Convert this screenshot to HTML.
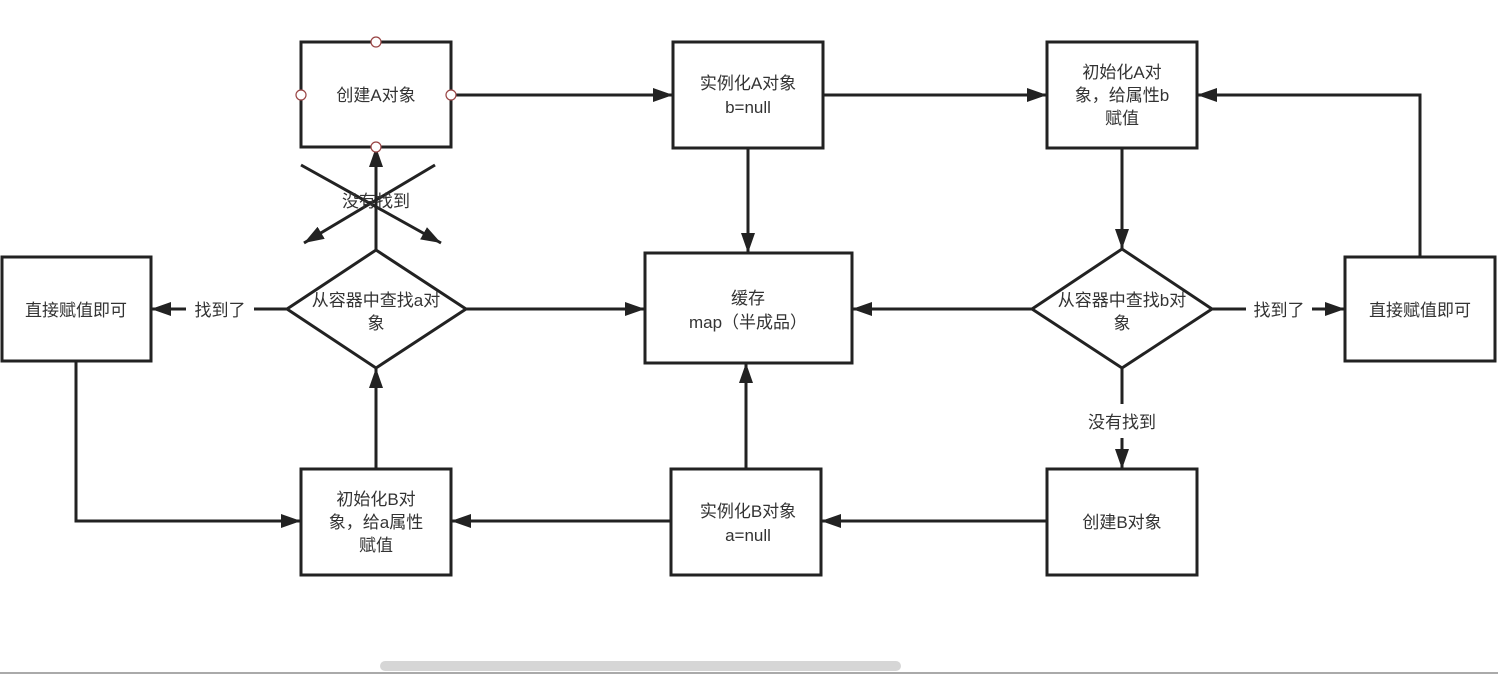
<!DOCTYPE html>
<html><head><meta charset="utf-8"><style>
html,body{margin:0;padding:0;background:#fff;}
svg{display:block;}
text{font-family:"Liberation Sans","Noto Sans CJK SC",sans-serif;font-size:17px;fill:#333;text-anchor:middle;}
</style></head><body>
<svg width="1498" height="674" viewBox="0 0 1498 674" xmlns="http://www.w3.org/2000/svg">
<defs>
<marker id="a" markerWidth="10" markerHeight="10" refX="9" refY="5" orient="auto" markerUnits="userSpaceOnUse" viewBox="0 0 10 10">
<path d="M0,0 L10,5 L0,10 z" fill="#222"/>
</marker>
<marker id="b" markerWidth="20" markerHeight="14" refX="20" refY="7" orient="auto" markerUnits="userSpaceOnUse">
<path d="M0,0 L20,7 L0,14 z" fill="#222"/>
</marker>
</defs>
<g fill="none" stroke="#222" stroke-width="3">
<rect x="301" y="42" width="150" height="105"/>
<rect x="673" y="42" width="150" height="106"/>
<rect x="1047" y="42" width="150" height="106"/>
<rect x="2" y="257" width="149" height="104"/>
<rect x="645" y="253" width="207" height="110"/>
<rect x="1345" y="257" width="150" height="104"/>
<rect x="301" y="469" width="150" height="106"/>
<rect x="671" y="469" width="150" height="106"/>
<rect x="1047" y="469" width="150" height="106"/>
<polygon points="287,309 376,250 466,309 376,368"/>
<polygon points="1032,309 1122,249 1212,309 1122,368"/>
</g>
<g fill="none" stroke="#222" stroke-width="3" marker-end="url(#b)">
<path d="M451,95 H673"/>
<path d="M823,95 H1047"/>
<path d="M748,148 V253"/>
<path d="M1122,148 V249"/>
<path d="M1420,257 V95 H1197"/>
<path d="M1032,309 H852"/>
<path d="M1212,309 H1246 M1312,309 H1345"/>
<path d="M1122,368 V404 M1122,438 V469"/>
<path d="M1047,521 H821"/>
<path d="M746,469 V363"/>
<path d="M671,521 H451"/>
<path d="M376,469 V368"/>
<path d="M76,361 V521 H301"/>
<path d="M287,309 H254 M186,309 H151"/>
<path d="M466,309 H645"/>
<path d="M376,250 V147"/>
<path d="M301,165 L441,243"/>
<path d="M435,165 L304,243"/>
</g>
<g fill="#fff" stroke="#944" stroke-width="1.2">
<circle cx="376" cy="42" r="5"/><circle cx="301" cy="95" r="5"/><circle cx="451" cy="95" r="5"/><circle cx="376" cy="147" r="5"/>
</g>
<text x="376" y="101">创建A对象</text>
<text x="748" y="89">实例化A对象</text>
<text x="748" y="113">b=null</text>
<text x="1122" y="78">初始化A对</text>
<text x="1122" y="101">象，给属性b</text>
<text x="1122" y="124">赋值</text>
<text x="76" y="316">直接赋值即可</text>
<text x="376" y="306">从容器中查找a对</text>
<text x="376" y="329">象</text>
<text x="748" y="304">缓存</text>
<text x="748" y="328">map（半成品）</text>
<text x="1122" y="306">从容器中查找b对</text>
<text x="1122" y="329">象</text>
<text x="1420" y="316">直接赋值即可</text>
<text x="1279" y="316">找到了</text>
<text x="220" y="316">找到了</text>
<text x="376" y="207">没有找到</text>
<text x="1122" y="428">没有找到</text>
<text x="376" y="505">初始化B对</text>
<text x="376" y="528">象，给a属性</text>
<text x="376" y="551">赋值</text>
<text x="748" y="517">实例化B对象</text>
<text x="748" y="541">a=null</text>
<text x="1122" y="528">创建B对象</text>
<rect x="380" y="661" width="521" height="10" rx="5" fill="#d6d6d6"/>
<rect x="0" y="672" width="1498" height="2" fill="#aaa"/>
</svg>
</body></html>
